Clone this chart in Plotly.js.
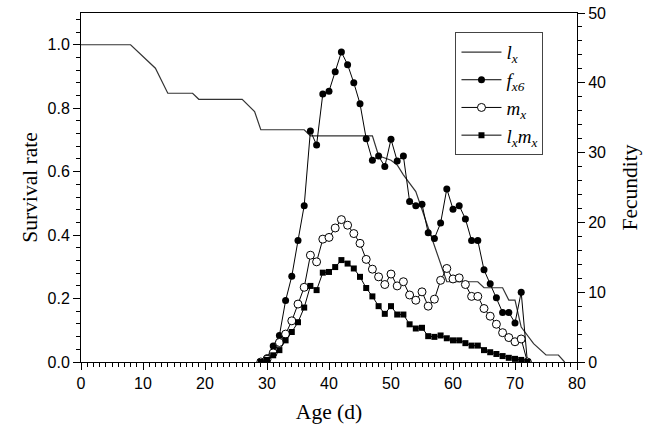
<!DOCTYPE html>
<html>
<head>
<meta charset="utf-8">
<script src="https://cdn.plot.ly/plotly-3.0.1.min.js"></script>
<style>html,body{margin:0;padding:0;background:#fff;}#chart{width:647px;height:438px;}</style>
</head>
<body>
<div id="chart"></div>
<script>
// Survival rate (lx) vertices
const lxAge = [0, 8, 12, 14, 18, 19, 26, 28, 29, 36, 37, 47, 48, 50, 51, 52, 54, 59, 64, 65, 68, 69, 70, 71, 73, 75, 77, 78];
const lxVal = [1.0, 1.0, 0.926, 0.847, 0.847, 0.828, 0.828, 0.789, 0.732, 0.732, 0.713, 0.713, 0.65, 0.636, 0.621, 0.59, 0.537, 0.253, 0.253, 0.234, 0.234, 0.195, 0.195, 0.11, 0.058, 0.022, 0.022, 0.0];

// Ages for fecundity series
const ages = [29,30,31,32,33,34,35,36,37,38,39,40,41,42,43,44,45,46,47,48,49,50,51,52,53,54,55,56,57,58,59,60,61,62,63,64,65,66,67,68,69,70,71,72];
const fx6 = [0,0.6,2.3,3.8,8.8,12.3,17.4,22.4,33.1,31.1,38.4,38.8,41.6,44.4,42.6,40.0,37.0,32.0,28.9,29.5,28.0,31.9,28.8,29.5,23.0,22.4,22.6,18.5,17.7,19.9,24.8,21.9,22.4,20.5,17.4,17.4,13.2,11.2,9.2,7.1,7.1,5.6,10.0,0];
const mx = [0,0.4,1.3,2.8,4.0,5.9,8.3,10.7,15.3,14.35,17.6,17.85,19.2,20.4,19.6,18.4,17.0,14.7,13.3,12.2,11.1,12.6,10.9,11.5,9.6,8.85,10.05,8.0,9.0,11.7,13.4,11.9,12.05,11.1,9.4,9.4,7.66,6.56,5.41,4.2,3.5,2.9,3.3,0];
const lxmx = [0,0.3,0.96,1.7,3.1,4.3,5.7,7.8,10.9,10.3,12.8,12.9,13.6,14.6,14.1,13.4,12.2,10.6,9.4,8.0,6.9,8.0,6.8,6.8,5.4,4.8,4.9,3.7,3.6,3.8,3.4,3.1,3.1,2.7,2.35,2.35,1.7,1.4,1.15,0.85,0.6,0.45,0.3,0];

const names = ['<i>l</i><sub><i>x</i></sub>', '<i>f</i><sub><i>x6</i></sub>', '<i>m</i><sub><i>x</i></sub>', '<i>l</i><sub><i>x</i></sub><i>m</i><sub><i>x</i></sub>'];

const traces = [
  {x: lxAge, y: lxVal, name: names[0], mode: 'lines', yaxis: 'y', line: {color: '#333', width: 1.2}},
  {x: ages, y: fx6, name: names[1], mode: 'lines+markers', yaxis: 'y2', line: {color: '#000', width: 1}, marker: {symbol: 'circle', size: 7, color: '#000'}},
  {x: ages, y: mx, name: names[2], mode: 'lines+markers', yaxis: 'y2', line: {color: '#000', width: 1}, marker: {symbol: 'circle', size: 8, color: '#fff', line: {color: '#000', width: 1}}},
  {x: ages, y: lxmx, name: names[3], mode: 'lines+markers', yaxis: 'y2', line: {color: '#000', width: 1}, marker: {symbol: 'square', size: 6, color: '#000'}}
];

const tickFont = {family: 'Liberation Sans, Arial, sans-serif', size: 16, color: '#000'};
const titleFont = {family: 'Liberation Serif, Times New Roman, serif', size: 21.5, color: '#000'};

const layout = {
  width: 647, height: 438,
  margin: {l: 81, r: 70, t: 13, b: 76},
  paper_bgcolor: '#fff', plot_bgcolor: '#fff',
  showlegend: true,
  legend: {
    x: 0.755, y: 0.945, xanchor: 'left', yanchor: 'top',
    bordercolor: '#444', borderwidth: 1, bgcolor: '#fff',
    font: {family: 'Liberation Serif, Times New Roman, serif', size: 19, color: '#000'},
    itemwidth: 40
  },
  xaxis: {
    range: [0, 80], dtick: 10, tick0: 0,
    showgrid: false, zeroline: false,
    showline: true, linecolor: '#000', linewidth: 1, mirror: true,
    ticks: 'outside', ticklen: 7, tickcolor: '#000',
    minor: {dtick: 1, ticks: 'outside', ticklen: 4, tickcolor: '#000', showgrid: false},
    tickfont: tickFont,
    title: {text: 'Age (d)', font: titleFont, standoff: 12}
  },
  yaxis: {
    range: [0, 1.1], dtick: 0.2, tick0: 0, tickformat: '.1f',
    showgrid: false, zeroline: false,
    showline: true, linecolor: '#000', linewidth: 1,
    ticks: 'outside', ticklen: 7, tickcolor: '#000',
    minor: {dtick: 0.04, ticks: 'outside', ticklen: 4, tickcolor: '#000', showgrid: false},
    tickfont: tickFont,
    title: {text: 'Survival rate', font: titleFont, standoff: 4}
  },
  yaxis2: {
    range: [0, 50], dtick: 10, tick0: 0,
    overlaying: 'y', side: 'right',
    showgrid: false, zeroline: false,
    showline: true, linecolor: '#000', linewidth: 1,
    ticks: 'outside', ticklen: 7, tickcolor: '#000',
    minor: {dtick: 2, ticks: 'outside', ticklen: 4, tickcolor: '#000', showgrid: false},
    tickfont: tickFont,
    title: {text: 'Fecundity', font: titleFont, standoff: 16}
  }
};

Plotly.newPlot('chart', traces, layout, {displayModeBar: false, staticPlot: true});
</script>
</body>
</html>
